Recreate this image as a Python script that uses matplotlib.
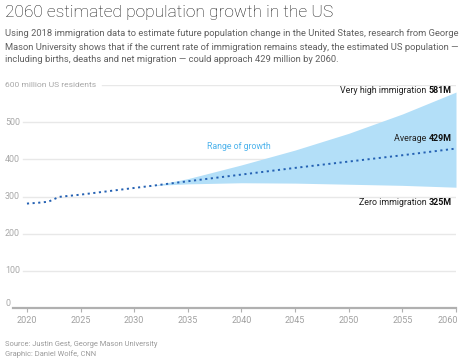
import matplotlib.pyplot as plt
import matplotlib.transforms as mtransforms

plt.rcParams['font.family'] = ['Roboto', 'DejaVu Sans']

# central (average) projection, millions
years = [2020, 2021, 2022, 2023, 2025, 2030, 2032, 2035, 2040, 2045, 2050, 2055, 2060]
average = [281, 283, 286, 299, 305, 323, 330, 341, 359, 377, 394, 411, 429]

# range of growth band
band_years = [2031, 2032, 2035, 2040, 2045, 2050, 2055, 2060]
high = [327, 331, 348, 385, 425, 470, 522, 581]
zero = [327, 330, 334, 337, 336, 333, 330, 325]

yticks = [0, 100, 200, 300, 400, 500, 600]
xticks = [2020, 2025, 2030, 2035, 2040, 2045, 2050, 2055, 2060]

labels = [('Very high immigration ', '581M', 585),
          ('Average ', '429M', 455),
          ('Zero immigration ', '325M', 285)]

W, H = 460, 361
fig = plt.figure(figsize=(W / 100, H / 100), dpi=100)
L, R, B, T = 13, 456, 308, 85
ax = fig.add_axes([L / W, 1 - B / H, (R - L) / W, (B - T) / H])
ax.set_xlim(2018.7, 2060)
ax.set_ylim(0, 600)

for sp in ['top', 'right', 'left']:
    ax.spines[sp].set_visible(False)
ax.spines['bottom'].set_color('#b0b0b0')
ax.spines['bottom'].set_linewidth(1.6)
ax.set_yticks([])
ax.set_xticks(xticks)
ax.tick_params(axis='x', length=3, width=0.8, color='#b0b0b0', labelcolor='#a0a0a0',
               labelsize=6.5, pad=3)
ticklabs = ax.get_xticklabels()
ticklabs[-1].set_ha('right')
ticklabs[-1].set_transform(ticklabs[-1].get_transform() +
                           mtransforms.ScaledTranslation(2 / 100, 0, fig.dpi_scale_trans))

fig.canvas.draw()
rend = fig.canvas.get_renderer()

trans = mtransforms.blended_transform_factory(ax.transAxes, ax.transData)
for v in yticks:
    lab = '600 million US residents' if v == 600 else str(v)
    t = ax.text(-8 / (R - L), v + (12 if v == 0 else 0), lab, transform=trans, ha='left',
                va='center', fontsize=6.1 if v == 600 else 6.4, color='#a8a8a8')
    if v == 0:
        continue
    if v == 600:
        end = t.get_window_extent(rend).x1 + 6
    else:
        end = 23
    ax.axhline(v, xmin=(end - L) / (R - L), xmax=1, color='#e8e8e8', lw=1, zorder=0)

ax.fill_between(band_years, zero, high, color='#b3dff8', lw=0, zorder=1)
ax.plot(years, average, color='#2461b3', lw=1.4, ls=(0, (1.1, 1.8)), zorder=2)

ax.text(2036.8, 435, 'Range of growth', fontsize=6.3, color='#4db3ec', ha='left', va='center')

# right side labels: regular text followed by a bold value
for txt, val, yv in labels:
    b = ax.text(2059.6, yv, val, ha='right', va='center', fontsize=6.4,
                fontweight='bold', color='#111111')
    w = b.get_window_extent(rend).width
    off = mtransforms.ScaledTranslation(-w / 100, 0, fig.dpi_scale_trans)
    ax.text(2059.6, yv, txt, ha='right', va='center', fontsize=6.4, color='#222222',
            transform=ax.transData + off)

fig.text(5 / W, 1 - 13 / H, '2060 estimated population growth in the US', fontsize=12.5,
         fontweight='light', color='#1a1a1a', va='center', ha='left')
sub = ['Using 2018 immigration data to estimate future population change in the United States, research from George',
       'Mason University shows that if the current rate of immigration remains steady, the estimated US population \u2014',
       'including births, deaths and net migration \u2014 could approach 429 million by 2060.']
for i, s in enumerate(sub):
    fig.text(5 / W, 1 - (34 + i * 13) / H, s, fontsize=6.75, color='#606060', va='center', ha='left')

fig.text(5 / W, 1 - 344 / H, 'Source: Justin Gest, George Mason University', fontsize=5.4,
         color='#999999', va='center')
fig.text(5 / W, 1 - 354 / H, 'Graphic: Daniel Wolfe, CNN', fontsize=5.4,
         color='#999999', va='center')

fig.savefig('out.png', dpi=100)
